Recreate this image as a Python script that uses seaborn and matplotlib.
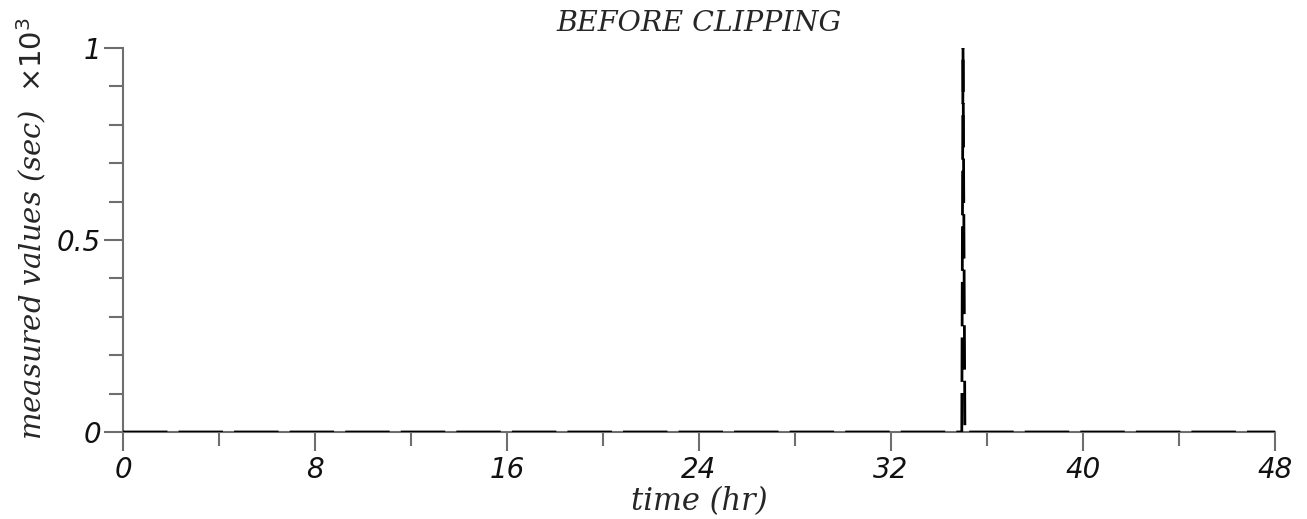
import matplotlib
matplotlib.use("Agg")
import matplotlib.pyplot as plt
import numpy as np
import pandas as pd
import seaborn as sns
from matplotlib.ticker import MultipleLocator

# Measured series (time in hours, values in units of 10^3 sec)
time_hr = [0.0, 34.95, 35.0, 35.08, 48.0]
measured = [0.0, 0.0, 1.0, 0.0, 0.0]

x_ticks = [0, 8, 16, 24, 32, 40, 48]
y_ticks = [0, 0.5, 1]
y_tick_labels = ["0", "0.5", "1"]

sns.set_theme(style="white")
plt.rcParams["font.family"] = ["DejaVu Sans"]

df = pd.DataFrame({"time": time_hr, "value": measured})

fig = plt.figure(figsize=(13.07, 5.19), dpi=100)
ax = fig.add_axes([123 / 1307, 1 - 432 / 519, (1275 - 123) / 1307, (432 - 48) / 519])

sns.lineplot(data=df, x="time", y="value", ax=ax, color="black",
             linewidth=2.0, dashes=False, estimator=None, sort=False)
ax.lines[0].set_dashes([16, 4])
ax.lines[0].set_zorder(5)

ax.set_xlim(0, 48)
ax.set_ylim(0, 1)
ax.set_xticks(x_ticks)
ax.set_xticklabels([str(t) for t in x_ticks])
ax.set_yticks(y_ticks)
ax.set_yticklabels(y_tick_labels)
ax.xaxis.set_minor_locator(MultipleLocator(4))
ax.yaxis.set_minor_locator(MultipleLocator(0.1))

grey = "#6e6e6e"
for side in ["top", "right"]:
    ax.spines[side].set_visible(False)
for side in ["left", "bottom"]:
    ax.spines[side].set_color(grey)
    ax.spines[side].set_linewidth(1.5)

ax.tick_params(axis="both", which="major", direction="out", length=14,
               width=1.5, color=grey, labelsize=20, pad=3,
               bottom=True, left=True)
ax.tick_params(axis="y", which="major", pad=2)
ax.tick_params(axis="both", which="minor", direction="out", length=10,
               width=1.5, color=grey, bottom=True, left=True)
for lab in ax.get_xticklabels() + ax.get_yticklabels():
    lab.set_fontstyle("italic")
    lab.set_color("#111111")

ax.set_xlabel("time (hr)", fontsize=22, fontstyle="italic",
              family="DejaVu Serif", labelpad=2)
ax.set_ylabel(r"measured values (sec)  $\times 10^{3}$", fontsize=21,
              fontstyle="italic", family="DejaVu Serif", labelpad=10)
ax.yaxis.set_label_coords(-0.064, 0.53)
ax.set_title("BEFORE CLIPPING", fontsize=20.5, fontstyle="italic",
             family="DejaVu Serif", pad=12)
ax.patch.set_alpha(0)

fig.savefig("out.png", dpi=100)
